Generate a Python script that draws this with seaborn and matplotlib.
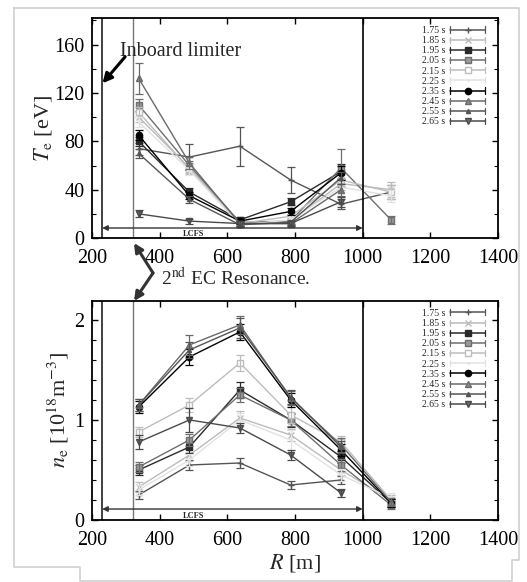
import numpy as np
import pandas as pd
import matplotlib
matplotlib.use("Agg")
import matplotlib.pyplot as plt
from matplotlib.lines import Line2D
from matplotlib.legend_handler import HandlerBase
import seaborn as sns

# major radius positions of the probe channels
R = [338, 488, 637, 787, 936, 1084]

times = ["1.75 s", "1.85 s", "1.95 s", "2.05 s", "2.15 s",
         "2.25 s", "2.35 s", "2.45 s", "2.55 s", "2.65 s"]

# electron temperature [eV], nan = no data
te_175 = [74, 67, 76, 48, 28, 38]
te_185 = [100, 58, 12, 14, 45, 40]
te_195 = [80, 38, 15, 30, 55, np.nan]
te_205 = [110, 60, 13, 14, 58, 15]
te_215 = [104, 57, 12, 18, 48, 38]
te_225 = [96, 56, 11, 15, 42, 35]
te_235 = [85, 35, 14, 22, 54, np.nan]
te_245 = [132, 62, 12, 12, 40, np.nan]
te_255 = [70, 32, 11, 13, 50, np.nan]
te_265 = [20, 14, 12, 12, 30, np.nan]

te_err_175 = [5, 11, 16, 11, 4, 6]
te_err_185 = [4, 4, 2, 2, 5, 6]
te_err_195 = [4, 3, 2, 3, 6, 0]
te_err_205 = [5, 4, 2, 2, 16, 3]
te_err_215 = [4, 4, 2, 2, 5, 6]
te_err_225 = [4, 4, 2, 2, 5, 5]
te_err_235 = [4, 3, 2, 3, 6, 0]
te_err_245 = [13, 5, 2, 2, 5, 0]
te_err_255 = [4, 3, 2, 2, 5, 0]
te_err_265 = [3, 2, 2, 2, 4, 0]

# electron density [1e18 m^-3]
ne_175 = [0.25, 0.55, 0.57, 0.35, 0.40, np.nan]
ne_185 = [0.33, 0.65, 1.02, 0.85, 0.50, 0.20]
ne_195 = [0.50, 0.73, 1.30, 1.00, 0.63, 0.17]
ne_205 = [0.53, 0.80, 1.25, 1.00, 0.55, 0.15]
ne_215 = [0.88, 1.15, 1.57, 1.05, 0.78, 0.20]
ne_225 = [0.30, 0.60, 1.00, 0.80, 0.45, 0.22]
ne_235 = [1.13, 1.63, 1.88, 1.20, 0.70, 0.17]
ne_245 = [1.15, 1.75, 1.95, 1.22, 0.75, 0.18]
ne_255 = [1.15, 1.70, 1.92, 1.23, 0.73, np.nan]
ne_265 = [0.78, 1.00, 0.92, 0.65, 0.27, np.nan]

ne_err_175 = [0.04, 0.05, 0.05, 0.04, 0.04, 0]
ne_err_185 = [0.05, 0.06, 0.07, 0.06, 0.05, 0.05]
ne_err_195 = [0.05, 0.06, 0.08, 0.07, 0.06, 0.04]
ne_err_205 = [0.05, 0.06, 0.07, 0.06, 0.06, 0.04]
ne_err_215 = [0.05, 0.07, 0.08, 0.08, 0.06, 0.05]
ne_err_225 = [0.05, 0.06, 0.07, 0.10, 0.06, 0.05]
ne_err_235 = [0.06, 0.08, 0.08, 0.07, 0.06, 0.04]
ne_err_245 = [0.06, 0.10, 0.09, 0.07, 0.07, 0.04]
ne_err_255 = [0.06, 0.08, 0.10, 0.07, 0.06, 0]
ne_err_265 = [0.07, 0.12, 0.05, 0.05, 0.04, 0]

te_all = [te_175, te_185, te_195, te_205, te_215, te_225, te_235, te_245, te_255, te_265]
te_err_all = [te_err_175, te_err_185, te_err_195, te_err_205, te_err_215,
              te_err_225, te_err_235, te_err_245, te_err_255, te_err_265]
ne_all = [ne_175, ne_185, ne_195, ne_205, ne_215, ne_225, ne_235, ne_245, ne_255, ne_265]
ne_err_all = [ne_err_175, ne_err_185, ne_err_195, ne_err_205, ne_err_215,
              ne_err_225, ne_err_235, ne_err_245, ne_err_255, ne_err_265]

# gray-scale style per time slice: (line colour, marker, face colour, marker size)
styles = [
    ("#555555", "+", "#555555", 5),
    ("#bbbbbb", "x", "#bbbbbb", 4),
    ("#2a2a2a", "s", "#2a2a2a", 4),
    ("#6f6f6f", "s", "#9a9a9a", 5),
    ("#bdbdbd", "s", "white", 4),
    ("#e2e2e2", ".", "#e2e2e2", 2),
    ("#000000", "o", "#000000", 4.5),
    ("#6a6a6a", "^", "#8a8a8a", 4),
    ("#555555", "^", "#555555", 3),
    ("#4a4a4a", "v", "#6a6a6a", 4.5),
]

rows = []
for t, te, ne in zip(times, te_all, ne_all):
    for r, a, b in zip(R, te, ne):
        rows.append({"R": r, "time": t, "Te": a, "ne": b})
df = pd.DataFrame(rows)


class ErrbarHandle(HandlerBase):
    # gnuplot-like legend sample: |---o---|
    def create_artists(self, legend, orig, xdescent, ydescent, width, height,
                       fontsize, trans):
        y = height / 2 - ydescent
        x0, x1 = -xdescent, width - xdescent
        c = orig.get_color()
        parts = [
            Line2D([x0, x1], [y, y], color=c, lw=1.1),
            Line2D([x0, x0], [y - 2.2, y + 2.2], color=c, lw=0.9),
            Line2D([x1, x1], [y - 2.2, y + 2.2], color=c, lw=0.9),
            Line2D([(x0 + x1) / 2], [y], lw=0, marker=orig.get_marker(),
                   markerfacecolor=orig.get_markerfacecolor(),
                   markeredgecolor=c, markersize=orig.get_markersize()),
        ]
        for p in parts:
            p.set_transform(trans)
        return parts


sns.set_theme(style="ticks")
plt.rcParams["font.family"] = ["Liberation Serif", "DejaVu Serif"]
plt.rcParams["mathtext.fontset"] = "stix"
plt.rcParams.update({
    "xtick.direction": "in", "ytick.direction": "in",
    "xtick.top": True, "ytick.right": True,
    "axes.edgecolor": "black", "axes.linewidth": 1.3,
    "xtick.color": "black", "ytick.color": "black",
})

fig = plt.figure(figsize=(5.27, 5.82), dpi=100)
ax1 = fig.add_axes([0.1746, 0.591, 0.7704, 0.378])
ax2 = fig.add_axes([0.1746, 0.1065, 0.7704, 0.3765])


def draw_panel(ax, col, errs):
    handles = []
    for i, t in enumerate(times):
        c, m, fc, ms = styles[i]
        sub = df[df["time"] == t].dropna(subset=[col])
        sns.lineplot(data=sub, x="R", y=col, ax=ax, color=c, marker=m,
                     markerfacecolor=fc, markeredgecolor=c, markersize=ms,
                     markeredgewidth=1, linewidth=1, errorbar=None, sort=False)
        err = np.array(errs[i], dtype=float)[: len(sub)]
        ax.errorbar(sub["R"], sub[col], yerr=err, fmt="none", ecolor=c,
                    elinewidth=0.9, capsize=3, capthick=0.9)
        handles.append(Line2D([], [], color=c, marker=m, markerfacecolor=fc,
                              markersize=ms))
    ax.legend(handles, times, loc="upper right", bbox_to_anchor=(0.985, 0.995),
              frameon=False, fontsize=7, labelspacing=0.12, handlelength=3.6,
              handletextpad=0.5, markerfirst=False, borderpad=0.2,
              handler_map={Line2D: ErrbarHandle()})
    # limiter, EC resonance and LCFS markers
    ax.axvline(230, color="#333333", lw=1.3)
    ax.axvline(320, color="#777777", lw=1.0)
    ax.axvline(1000, color="black", lw=1.2)
    ax.set_xlim(200, 1400)
    ax.set_xticks(range(200, 1401, 200))
    ax.tick_params(axis="both", labelsize=14.5, length=4, width=1)
    ax.tick_params(axis="x", pad=8)
    ax.tick_params(axis="y", pad=5.5)
    ax.tick_params(axis="both", which="minor", length=3, width=0.8)
    ax.set_xlabel("")


draw_panel(ax1, "Te", te_err_all)
ax1.set_ylim(0, 182)
ax1.set_yticks([0, 40, 80, 120, 160])
ax1.set_yticks(range(0, 181, 20), minor=True)
ax1.set_ylabel(r"$T_{\rm e}$ [eV]", fontsize=16, labelpad=0)
ax1.annotate("", xy=(230, 8.3), xytext=(1000, 8.3),
             arrowprops=dict(arrowstyle="<|-|>", color="#333333", lw=1,
                             mutation_scale=8, shrinkA=0, shrinkB=0))
ax1.text(500, 3.5, "LCFS", fontsize=6, ha="center", va="center", fontweight="bold")
ax1.text(284, 154, "Inboard limiter", fontsize=14.5, ha="left", va="center")
ax1.annotate("", xy=(231, 128), xytext=(298, 150),
             arrowprops=dict(arrowstyle="-|>", color="black", lw=2.2,
                             mutation_scale=14, shrinkA=0, shrinkB=0))

draw_panel(ax2, "ne", ne_err_all)
ax2.set_ylim(0, 2.19)
ax2.set_yticks([0, 1, 2])
ax2.set_yticks(np.arange(0, 2.19, 0.2), minor=True)
ax2.set_ylabel(r"$n_{\rm e}$ [10$^{18}$m$^{-3}$]", fontsize=16, labelpad=2)
ax2.annotate("", xy=(230, 0.11), xytext=(1000, 0.11),
             arrowprops=dict(arrowstyle="<|-|>", color="#333333", lw=1,
                             mutation_scale=8, shrinkA=0, shrinkB=0))
ax2.text(500, 0.045, "LCFS", fontsize=6, ha="center", va="center", fontweight="bold")
ax2.set_xlabel(r"$R$ [m]", fontsize=16, labelpad=1)

# 2nd harmonic EC resonance label with arrows to both panels
W, H = 527.0, 582.0
fig.text(161 / W, 1 - 285 / H, r"2$^{\rm nd}$ EC Resonance.", fontsize=14,
         ha="left", va="baseline")
for yh in (243, 301):
    fig.add_artist(matplotlib.patches.FancyArrowPatch(
        (153 / W, 1 - 273 / H), (134 / W, 1 - yh / H),
        transform=fig.transFigure, arrowstyle="-|>", color="#333333",
        lw=2.2, mutation_scale=13, shrinkA=0, shrinkB=0))

# faint scan border
bx = [14, 519, 519, 512, 512, 80, 80, 14, 14]
by = [8, 8, 560, 560, 581, 581, 567, 567, 8]
fig.add_artist(Line2D([x / W for x in bx], [1 - y / H for y in by],
                      transform=fig.transFigure, color="#cfcfcf", lw=1.2))

fig.savefig("out.png", dpi=100)
